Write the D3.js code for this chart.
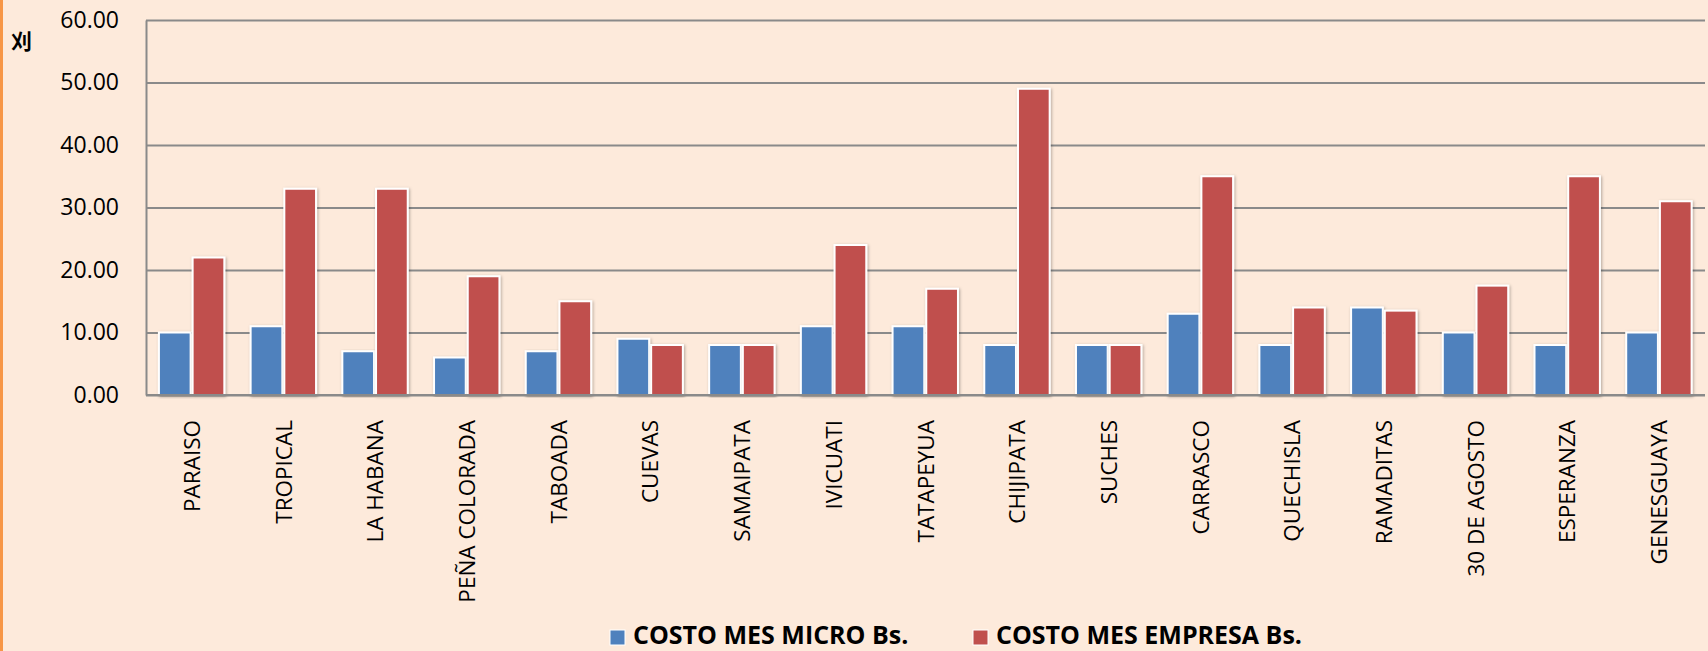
<html><head>
<script src="https://d3js.org/d3.v7.min.js"></script>
<style>
  body { margin: 0; background: #fdeadb; }
  text { font-family: "Open Sans", sans-serif; fill: #000; }
</style>
</head>
<body>
<svg id="chart" width="1708" height="651"></svg>
<script>
  // data
  const places = ["PARAISO", "TROPICAL", "LA HABANA", "PEÑA COLORADA", "TABOADA", "CUEVAS", "SAMAIPATA",
    "IVICUATI", "TATAPEYUA", "CHIJIPATA", "SUCHES", "CARRASCO", "QUECHISLA", "RAMADITAS",
    "30 DE AGOSTO", "ESPERANZA", "GENESGUAYA"];
  const costoMicro = [10, 11, 7, 6, 7, 9, 8, 11, 11, 8, 8, 13, 8, 14, 10, 8, 10];
  const costoEmpresa = [22, 33, 33, 19, 15, 8, 8, 24, 17, 49, 8, 35, 14, 13.5, 17.5, 35, 31];
  const seriesNames = ["COSTO MES MICRO Bs.", "COSTO MES EMPRESA Bs."];
  const yTicks = [0, 10, 20, 30, 40, 50, 60];

  let svg = d3.select("svg#chart");
  let margin = {"top": 20, "left": 146, "right": 3, "bottom": 256};
  let chartWidth = 1708 - margin.left - margin.right;
  let chartHeight = 651 - margin.top - margin.bottom;
  const colors = ["#4f81bd", "#c0504d"];

  // orange frame edge on the left
  svg.append("rect").attr("x", 0).attr("y", 0).attr("width", 3).attr("height", 651).style("fill", "#f79646");

  let defs = svg.append("defs");
  let shadow = defs.append("filter").attr("id", "shadow").attr("x", "-20%").attr("y", "-5%").attr("width", "140%").attr("height", "110%");
  shadow.append("feDropShadow").attr("dx", 1).attr("dy", 1).attr("stdDeviation", 1.5).attr("flood-color", "#000").attr("flood-opacity", 0.3);

  let yScale = d3.scaleLinear().domain([0, 60]).range([chartHeight, 0]);
  let xScale = d3.scaleBand().domain(places).range([0, chartWidth]);
  let x1 = d3.scaleBand().domain([0, 1]).range([xScale.bandwidth() * 0.13, xScale.bandwidth() * 0.865]);

  let chart = svg.append("g").attr("transform", "translate(" + margin.left + "," + margin.top + ")");

  // gridlines
  chart.append("g")
    .call(d3.axisLeft(yScale).tickValues(yTicks).tickSize(-chartWidth).tickFormat(""))
    .call(g => g.select(".domain").remove())
    .call(g => g.selectAll("line").style("stroke", "#8a8a8a").style("stroke-width", 2));

  // y axis labels
  let yAxis = chart.append("g")
    .call(d3.axisLeft(yScale).tickValues(yTicks).tickSize(0).tickPadding(27).tickFormat(d3.format(".2f")));
  yAxis.select(".domain").style("stroke", "#8a8a8a").style("stroke-width", 2);
  yAxis.selectAll("text").style("font-size", "23px").style("font-family", "Open Sans");

  // bars
  let series = [costoMicro, costoEmpresa];
  series.forEach((vals, s) => {
    chart.append("g").selectAll("rect")
      .data(vals)
      .enter()
      .append("rect")
      .attr("x", (d, i) => xScale(places[i]) + x1(s) + 1)
      .attr("width", x1.bandwidth() - 2)
      .attr("y", d => yScale(d))
      .attr("height", d => chartHeight - yScale(d))
      .attr("filter", "url(#shadow)")
      .style("fill", colors[s])
      .style("stroke", "#fff")
      .style("stroke-width", 2);
  });

  // bottom axis line
  chart.append("line")
    .attr("x1", 0).attr("x2", chartWidth)
    .attr("y1", chartHeight).attr("y2", chartHeight)
    .style("stroke", "#8a8a8a").style("stroke-width", 2);

  // category labels, rotated
  chart.append("g").selectAll("text")
    .data(places)
    .enter()
    .append("text")
    .attr("transform", d => "translate(" + (xScale(d) + xScale.bandwidth() / 2 + 8) + "," + (chartHeight + 25) + ") rotate(-90)")
    .attr("text-anchor", "end")
    .style("font-size", "22.5px")
    .text(d => d);

  // small stray axis title glyph
  svg.append("text").attr("x", 11).attr("y", 49).style("font-size", "21px").style("font-weight", "bold")
    .style("font-family", "Noto Sans CJK SC").text("刈");

  // legend
  let legendX = [610, 973];
  seriesNames.forEach((name, i) => {
    svg.append("rect").attr("x", legendX[i]).attr("y", 630).attr("width", 15).attr("height", 15)
      .style("fill", colors[i]).style("stroke", "#fff").style("stroke-width", 1);
    svg.append("text").attr("x", legendX[i] + 23).attr("y", 644)
      .style("font-size", "25px").style("font-weight", "bold").text(name);
  });
</script>
</body>
</html>
